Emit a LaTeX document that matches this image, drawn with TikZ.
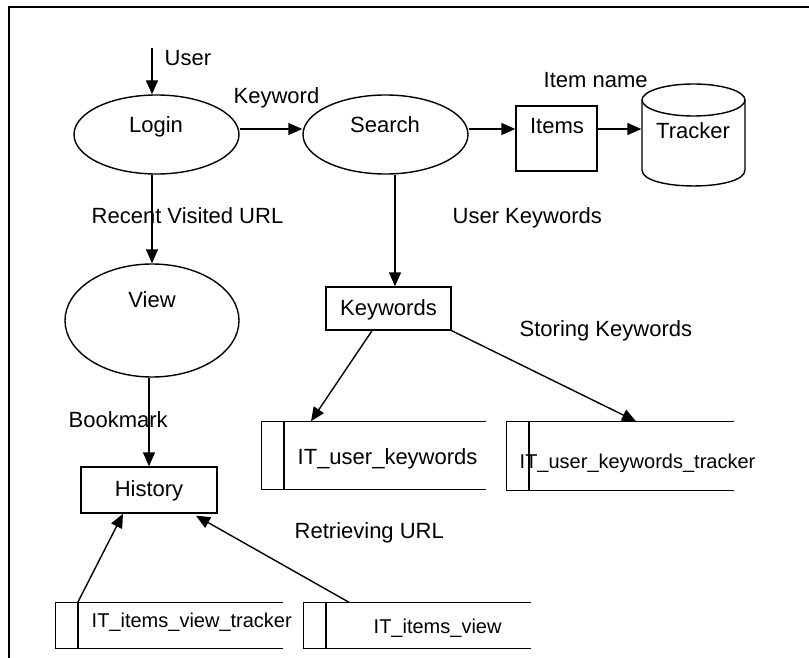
\documentclass[tikz,border=0pt]{standalone}
\usepackage{fontspec}
\setmainfont{Liberation Sans}
\usetikzlibrary{shapes.geometric,arrows.meta}
\begin{document}
\begin{tikzpicture}[x=1pt,y=-1pt,
  every path/.style={line width=1.4pt},
  lab/.style={inner sep=0pt, font=\fontsize{22}{26}\selectfont},
  slab/.style={inner sep=0pt, font=\fontsize{20}{24}\selectfont},
  proc/.style={draw, ellipse, inner sep=0pt},
  ent/.style={draw, rectangle, inner sep=0pt},
  storebox/.style={rectangle, inner sep=0pt},
  arr/.style={-{Triangle[length=14pt,width=12pt]}}
]
\useasboundingbox (0,0) rectangle (809,658);
% frame
\draw[line width=1.8pt] (9,658) -- (9,7) -- (809,7);

% shapes
\node[proc, minimum width=165pt, minimum height=79pt] (login) at (156.5,134.5) {};
\node[proc, minimum width=165pt, minimum height=79pt] (search) at (385.5,134.5) {};
\node[proc, minimum width=174pt, minimum height=113pt] (view) at (152,320.5) {};
\node[ent, minimum width=81pt, minimum height=65pt] (items) at (556.5,138.5) {};
\node[ent, minimum width=125pt, minimum height=43pt] (keywords) at (388.5,308.5) {};
\node[ent, minimum width=136pt, minimum height=46pt] (history) at (149,490) {};
\node[storebox, minimum width=103pt, minimum height=102pt] (tracker) at (693.5,135) {};
\draw (693.5,100) ellipse [x radius=51.5pt, y radius=16pt];
\draw (642,100) -- (642,170) .. controls (642,191.3) and (745,191.3) .. (745,170) -- (745,100);

\node[storebox, minimum width=223pt, minimum height=67pt] (uk) at (373.5,455.5) {};
\node[storebox, minimum width=226pt, minimum height=68pt] (ukt) at (620,456) {};
\node[storebox, minimum width=226pt, minimum height=45pt] (ivt) at (169,625.5) {};
\node[storebox, minimum width=226pt, minimum height=45pt] (iv) at (417,625.5) {};
\foreach \s in {uk,ukt,ivt,iv}{
  \draw (\s.north east) -- (\s.north west) -- (\s.south west) -- (\s.south east);
  \draw ([xshift=22.5pt]\s.north west) -- ([xshift=22.5pt]\s.south west);
}

% texts
\node[lab, anchor=base west] (tuser) at (164,66) {User};
\node[lab, anchor=base west] (tkeyword) at (233,104) {Keyword};
\node[lab, anchor=base] (tlogin) at (156,133) {Login};
\node[lab, anchor=base] (tsearch) at (385,133) {Search};
\node[lab, anchor=base west] (trecent) at (91,223) {Recent Visited URL};
\node[lab, anchor=base west] (titemname) at (543,88) {Item name};
\node[lab, anchor=base] (titems) at (557,134) {Items};
\node[lab, anchor=base] (ttracker) at (693,139) {Tracker};
\node[lab, anchor=base west] (tuserkw) at (452,223) {User Keywords};
\node[lab, anchor=base] (tview) at (152,307) {View};
\node[lab, anchor=base] (tkeywords) at (388.5,315) {Keywords};
\node[lab, anchor=base west] (tstoring) at (519,336) {Storing Keywords};
\node[lab, anchor=base west] (tbookmark) at (68,427) {Bookmark};
\node[lab, anchor=base] (thistory) at (149,496) {History};
\node[lab, anchor=base west] (tuk) at (297,464) {IT\_user\_keywords};
\node[slab, anchor=base west] (tukt) at (519,468) {IT\_user\_keywords\_tracker};
\node[lab, anchor=base west] (tretr) at (294,538) {Retrieving URL};
\node[slab, anchor=base west] (tivt) at (91,627) {IT\_items\_view\_tracker};
\node[slab, anchor=base west] (tiv) at (373,633) {IT\_items\_view};

% connectors
\coordinate (uin) at (152,48);
\coordinate (row) at (0,129);
\coordinate (kwx) at (395,0);
\draw[arr] (uin) -- (uin |- login.north);
\draw[arr] (login.east |- row) -- (search.west |- row);
\draw[arr] (search.east |- row) -- (items.west |- row);
\draw[arr] (items.east |- row) -- (tracker.west |- row);
\draw[arr] (login.south -| uin) -- (view.north);
\draw[arr] (search.south -| kwx) -- (keywords.north -| kwx);
\draw[arr] (view.south -| history.north) -- (history.north);
\draw[arr] ([xshift=-16.5pt]keywords.south) -- ([xshift=-62.5pt]uk.north);
\draw[arr] (keywords.south east) -- ([xshift=16pt]ukt.north);
\draw[arr] ([xshift=22.5pt]ivt.north west) -- ([xshift=-26pt]history.south);
\draw[arr] ([xshift=-68pt]iv.north) -- ([xshift=47pt,yshift=-2pt]history.south);
\end{tikzpicture}
\end{document}
